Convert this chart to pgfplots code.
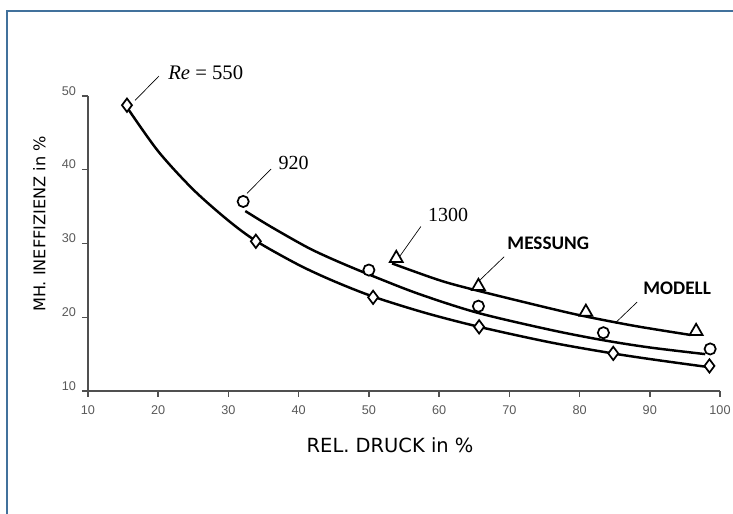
\documentclass[border=0pt]{standalone}
\usepackage{pgfplots}
\pgfplotsset{compat=1.18}
\usepackage{fontspec}
\setmainfont{Liberation Sans}
\newfontfamily\dejavu{DejaVu Sans}
\newfontfamily\carlito{Carlito}
\newfontfamily\lserif{Liberation Serif}
\definecolor{framec}{RGB}{65,113,156}
\definecolor{axc}{RGB}{80,80,80}
\definecolor{tickc}{RGB}{89,89,89}
\begin{document}
\begin{tikzpicture}
\useasboundingbox (0,0) rectangle (549.75pt,385.5pt);
\begin{scope}
\clip (0,0) rectangle (549.75pt,385.5pt);
\draw[framec, line width=1.5pt] (4.9pt,-5pt) -- (4.9pt,377.6pt) -- (560pt,377.6pt);
\end{scope}
\begin{axis}[
  at={(66pt,92.25pt)}, anchor=south west,
  scale only axis, width=474pt, height=221.25pt,
  xmin=10, xmax=100, ymin=10, ymax=50,
  axis x line*=bottom, axis y line*=left,
  axis line style={axc, line width=1.4pt},
  xtick={10,20,...,100}, ytick={10,20,...,50},
  tick align=outside, major tick length=4.5pt,
  tick style={axc, line width=1.1pt},
  ticklabel style={font=\fontsize{9.5}{11}\selectfont, text=tickc},
  /pgf/number format/assume math mode=true,
  xticklabel style={yshift=-3pt},
  yticklabel style={yshift=4pt, xshift=-1pt},
  xlabel={REL. DRUCK in \%},
  ylabel={MH. INEFFIZIENZ in \%},
  xlabel style={font=\dejavu\fontsize{14.6}{17}\selectfont, at={(axis description cs:0.478,-0.183)}, anchor=center},
  ylabel style={font=\dejavu\fontsize{12.1}{15}\selectfont, at={(axis description cs:-0.077,0.566)}, anchor=center},
  clip=false,
]
% model curves
\addplot[black, line width=1.85pt, smooth, tension=0.5, no marks] coordinates {
 (15.6,48.4) (20,42.5) (25,37.3) (30,33.1) (34,30.3) (40,27.1) (45,24.9) (50.6,22.8) (58,20.6) (65.7,18.7) (75.8,16.6) (84.7,15.1) (91,14.2) (97.9,13.3)
};
\addplot[black, line width=1.85pt, smooth, tension=0.5, no marks] coordinates {
 (32.4,34.4) (36,32.3) (41.2,29.5) (45,27.8) (50,25.8) (57,23.2) (65.5,20.6) (75.8,18.3) (83.3,16.9) (90,15.9) (97.9,15.0)
};
\addplot[black, line width=1.85pt, smooth, tension=0.5, no marks] coordinates {
 (53.3,27.3) (60.1,25.0) (65.5,23.6) (75.8,21.2) (80.9,20.1) (88,18.8) (95.8,17.6)
};
% measurements
\addplot[only marks, mark=diamond*, mark size=5pt, mark options={fill=white, draw=black, line width=1.3pt}] coordinates {
 (15.55,48.75) (33.9,30.3) (50.6,22.7) (65.7,18.7) (84.8,15.1) (98.5,13.4)
};
\addplot[only marks, mark=*, mark size=4.2pt, mark options={fill=white, draw=black, line width=1.3pt}] coordinates {
 (32.1,35.7) (50.0,26.4) (65.6,21.5) (83.4,17.9) (98.6,15.7)
};
\addplot[only marks, mark=triangle*, mark size=5.6pt, mark options={fill=white, draw=black, line width=1.3pt}] coordinates {
 (53.9,28.0) (65.6,24.2) (80.9,20.7) (96.6,18.1)
};
% annotations
\draw[black, line width=0.5pt] (axis cs:16.7,49.4) -- (axis cs:20.1,52.7);
\node[anchor=west, inner sep=0pt, font=\lserif\fontsize{15.5}{18}\selectfont] at (axis cs:21.4,53.2) {\textit{Re} = 550};
\draw[black, line width=0.5pt] (axis cs:32.65,36.8) -- (axis cs:36.07,40.1);
\node[anchor=west, inner sep=0pt, font=\lserif\fontsize{15}{18}\selectfont] at (axis cs:37.1,40.9) {920};
\draw[black, line width=0.5pt] (axis cs:54.2,28.0) -- (axis cs:57.4,32.3);
\node[anchor=west, inner sep=0pt, font=\lserif\fontsize{15}{18}\selectfont] at (axis cs:58.4,33.85) {1300};
\draw[black, line width=0.5pt] (axis cs:65.55,24.8) -- (axis cs:69.26,28.2);
\node[anchor=west, inner sep=0pt, font=\carlito\bfseries\fontsize{14.4}{17}\selectfont] at (axis cs:69.7,30.0) {MESSUNG};
\draw[black, line width=0.5pt] (axis cs:85.07,19.2) -- (axis cs:88.2,22.06);
\node[anchor=west, inner sep=0pt, font=\carlito\bfseries\fontsize{14.4}{17}\selectfont] at (axis cs:89.06,23.96) {MODELL};
\end{axis}
\end{tikzpicture}
\end{document}
